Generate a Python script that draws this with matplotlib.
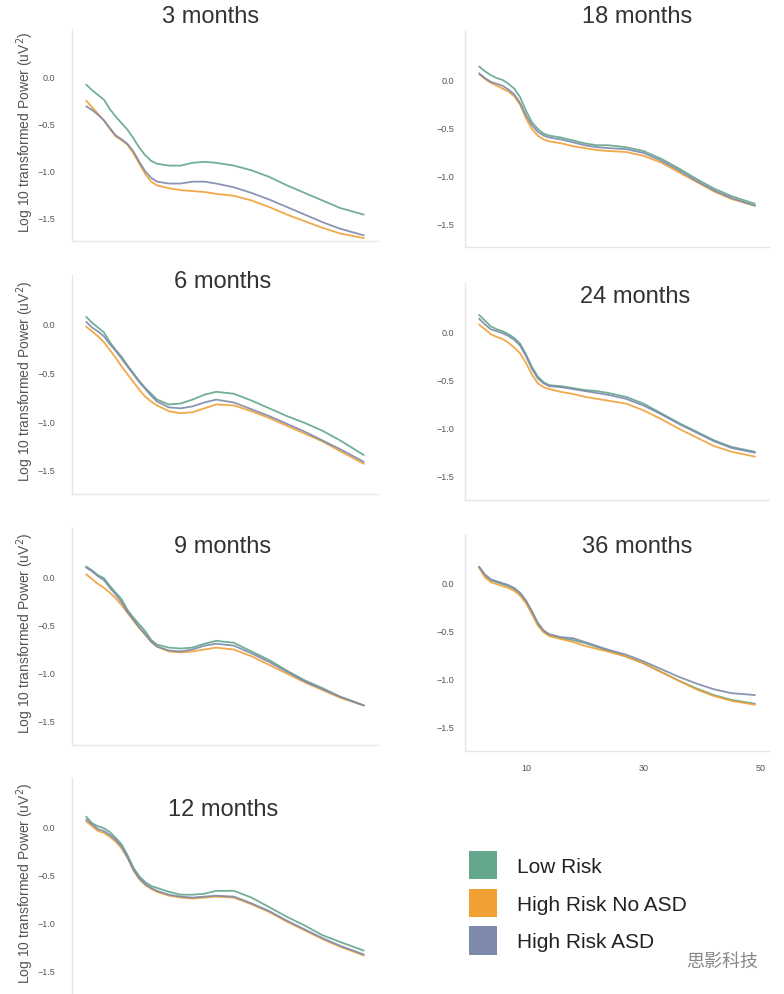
import matplotlib
matplotlib.use("Agg")
import matplotlib.pyplot as plt
from matplotlib.patches import Patch

plt.rcParams['font.family'] = ['Liberation Sans', 'Noto Sans CJK SC', 'DejaVu Sans']

freqs = [2, 3, 4, 5, 6, 7, 8, 9, 10, 11, 12, 13, 14, 16, 18, 20, 22, 24, 27, 30, 33, 36, 39, 42, 45, 49]

groups = ["Low Risk", "High Risk No ASD", "High Risk ASD"]
colors = ["#62a68c", "#f0a035", "#7d8aab"]

ages = ["3 months", "6 months", "9 months", "12 months", "18 months", "24 months", "36 months"]

m3_low = [-0.09, -0.15, -0.20, -0.25, -0.35, -0.43, -0.50, -0.57, -0.66, -0.76, -0.84, -0.90, -0.93, -0.95, -0.95, -0.92, -0.91, -0.92, -0.95, -1.00, -1.07, -1.16, -1.24, -1.32, -1.40, -1.47]
m3_hrno = [-0.26, -0.33, -0.40, -0.47, -0.56, -0.64, -0.68, -0.73, -0.82, -0.93, -1.04, -1.12, -1.16, -1.19, -1.21, -1.22, -1.23, -1.25, -1.27, -1.32, -1.39, -1.47, -1.54, -1.61, -1.67, -1.72]
m3_asd = [-0.32, -0.36, -0.41, -0.47, -0.55, -0.63, -0.67, -0.72, -0.80, -0.91, -1.01, -1.08, -1.12, -1.14, -1.14, -1.12, -1.12, -1.14, -1.18, -1.24, -1.31, -1.39, -1.47, -1.55, -1.62, -1.69]

m6_low = [0.07, 0.01, -0.04, -0.09, -0.19, -0.27, -0.34, -0.43, -0.51, -0.59, -0.66, -0.72, -0.78, -0.83, -0.82, -0.78, -0.73, -0.70, -0.72, -0.79, -0.87, -0.95, -1.02, -1.10, -1.20, -1.35]
m6_hrno = [-0.03, -0.08, -0.13, -0.19, -0.27, -0.35, -0.44, -0.52, -0.60, -0.68, -0.75, -0.80, -0.84, -0.90, -0.92, -0.91, -0.87, -0.83, -0.84, -0.90, -0.97, -1.05, -1.13, -1.21, -1.31, -1.44]
m6_asd = [0.02, -0.04, -0.08, -0.13, -0.21, -0.28, -0.36, -0.44, -0.52, -0.60, -0.67, -0.74, -0.80, -0.86, -0.87, -0.85, -0.81, -0.78, -0.81, -0.88, -0.95, -1.03, -1.11, -1.20, -1.29, -1.42]

m9_low = [0.10, 0.06, 0.01, -0.02, -0.10, -0.17, -0.24, -0.35, -0.43, -0.50, -0.57, -0.66, -0.71, -0.74, -0.75, -0.74, -0.70, -0.67, -0.69, -0.78, -0.87, -0.98, -1.08, -1.16, -1.25, -1.34]
m9_hrno = [0.02, -0.03, -0.08, -0.12, -0.17, -0.23, -0.30, -0.38, -0.46, -0.54, -0.61, -0.68, -0.73, -0.78, -0.79, -0.78, -0.76, -0.74, -0.76, -0.83, -0.92, -1.01, -1.10, -1.18, -1.26, -1.34]
m9_asd = [0.09, 0.05, 0.00, -0.04, -0.12, -0.19, -0.27, -0.37, -0.45, -0.53, -0.60, -0.68, -0.73, -0.77, -0.78, -0.76, -0.72, -0.70, -0.72, -0.80, -0.89, -0.99, -1.09, -1.17, -1.25, -1.34]

m12_low = [0.10, 0.03, 0.00, -0.02, -0.06, -0.12, -0.19, -0.30, -0.43, -0.52, -0.58, -0.62, -0.64, -0.68, -0.71, -0.71, -0.70, -0.67, -0.67, -0.74, -0.84, -0.94, -1.03, -1.13, -1.20, -1.29]
m12_hrno = [0.05, 0.00, -0.05, -0.07, -0.11, -0.16, -0.23, -0.33, -0.46, -0.55, -0.61, -0.65, -0.68, -0.72, -0.74, -0.75, -0.74, -0.73, -0.74, -0.81, -0.89, -0.99, -1.08, -1.17, -1.25, -1.34]
m12_asd = [0.07, 0.02, -0.03, -0.05, -0.09, -0.14, -0.21, -0.32, -0.45, -0.54, -0.60, -0.64, -0.67, -0.71, -0.73, -0.74, -0.73, -0.72, -0.73, -0.80, -0.88, -0.98, -1.07, -1.16, -1.24, -1.33]

m18_low = [0.13, 0.08, 0.04, 0.01, -0.01, -0.05, -0.10, -0.19, -0.33, -0.45, -0.52, -0.57, -0.59, -0.61, -0.64, -0.67, -0.69, -0.69, -0.71, -0.75, -0.83, -0.93, -1.04, -1.14, -1.22, -1.30]
m18_hrno = [0.05, 0.00, -0.04, -0.07, -0.10, -0.13, -0.18, -0.27, -0.41, -0.52, -0.59, -0.63, -0.65, -0.67, -0.70, -0.72, -0.74, -0.75, -0.76, -0.80, -0.87, -0.97, -1.07, -1.17, -1.25, -1.32]
m18_asd = [0.06, 0.01, -0.03, -0.05, -0.07, -0.11, -0.16, -0.25, -0.38, -0.48, -0.55, -0.59, -0.61, -0.63, -0.66, -0.69, -0.71, -0.72, -0.73, -0.77, -0.85, -0.95, -1.06, -1.16, -1.24, -1.32]

m24_low = [0.17, 0.11, 0.05, 0.02, 0.00, -0.03, -0.07, -0.13, -0.24, -0.37, -0.47, -0.53, -0.56, -0.57, -0.59, -0.61, -0.62, -0.64, -0.68, -0.75, -0.85, -0.95, -1.04, -1.13, -1.20, -1.25]
m24_hrno = [0.07, 0.02, -0.03, -0.06, -0.08, -0.12, -0.17, -0.23, -0.33, -0.45, -0.54, -0.58, -0.60, -0.63, -0.65, -0.68, -0.70, -0.72, -0.75, -0.82, -0.91, -1.01, -1.10, -1.19, -1.25, -1.30]
m24_asd = [0.13, 0.07, 0.02, 0.00, -0.02, -0.05, -0.09, -0.15, -0.26, -0.39, -0.49, -0.54, -0.57, -0.58, -0.60, -0.62, -0.64, -0.66, -0.70, -0.77, -0.86, -0.96, -1.05, -1.14, -1.21, -1.26]

m36_low = [0.16, 0.07, 0.02, 0.00, -0.02, -0.04, -0.07, -0.12, -0.20, -0.31, -0.43, -0.51, -0.55, -0.58, -0.60, -0.63, -0.67, -0.71, -0.77, -0.84, -0.93, -1.02, -1.10, -1.17, -1.22, -1.26]
m36_hrno = [0.15, 0.05, 0.00, -0.02, -0.04, -0.06, -0.09, -0.14, -0.22, -0.33, -0.45, -0.52, -0.56, -0.59, -0.62, -0.66, -0.69, -0.72, -0.77, -0.84, -0.93, -1.02, -1.11, -1.18, -1.23, -1.27]
m36_asd = [0.16, 0.08, 0.03, 0.01, -0.01, -0.03, -0.06, -0.11, -0.19, -0.30, -0.42, -0.50, -0.54, -0.57, -0.58, -0.62, -0.66, -0.70, -0.75, -0.82, -0.90, -0.98, -1.05, -1.11, -1.15, -1.17]

panel_data = [
    (m3_low, m3_hrno, m3_asd),
    (m6_low, m6_hrno, m6_asd),
    (m9_low, m9_hrno, m9_asd),
    (m12_low, m12_hrno, m12_asd),
    (m18_low, m18_hrno, m18_asd),
    (m24_low, m24_hrno, m24_asd),
    (m36_low, m36_hrno, m36_asd),
]

yticks = [-1.5, -1.0, -0.5, 0.0]
xticks = [10, 30, 50]

W, H = 784, 995
fig = plt.figure(figsize=(W / 100, H / 100), dpi=100)

# pixel boxes: (left, top, right, bottom)
boxes = [
    (72, 30, 378, 242), (72, 276, 378, 495), (72, 529, 378, 746), (72, 779, 378, 996),
    (465, 32, 769, 248), (465, 284, 769, 501), (465, 535, 769, 752),
]
title_pos = [(211, 17), (223, 282), (223, 547), (223, 810), (637, 17), (635, 297), (637, 547)]

spine_col = "#e6e6e6"
for i, (age, data, box, tp) in enumerate(zip(ages, panel_data, boxes, title_pos)):
    l, t, r, b = box
    ax = fig.add_axes([l / W, 1 - b / H, (r - l) / W, (b - t) / H])
    ax.set_facecolor("white")
    for series, c in zip(data, colors):
        ax.plot(freqs, series, color=c, lw=1.3, alpha=0.9, solid_capstyle="round")
    ax.set_xlim(-0.4, 51.4)
    ax.set_ylim(-1.75, 0.5)
    ax.set_yticks(yticks)
    ax.set_yticklabels([f"{v:.1f}".replace("-", "\u2212") for v in yticks])
    for s in ["top", "right"]:
        ax.spines[s].set_visible(False)
    for s in ["left", "bottom"]:
        ax.spines[s].set_color(spine_col)
        ax.spines[s].set_linewidth(1.0)
    left_col = i < 4
    ax.tick_params(axis="y", length=0, labelsize=6.5, labelcolor="#555555", pad=12 if left_col else 8)
    if age == "36 months":
        ax.set_xticks(xticks)
        ax.tick_params(axis="x", length=0, labelsize=6.5, labelcolor="#555555", pad=9)
    else:
        ax.set_xticks([])
    fig.text(tp[0] / W, 1 - tp[1] / H, age, ha="center", va="center", fontsize=17, color="#333333")
    if left_col:
        fig.text(25 / W, 1 - ((t + min(b, H)) / 2 - 4) / H, "Log 10 transformed Power (uV$^2$)",
                 rotation=90, ha="center", va="center", fontsize=10, color="#555555")

handles = [Patch(facecolor=c, edgecolor="none") for c in colors]
fig.legend(handles, groups, loc="upper left", bbox_to_anchor=(469 / W, 1 - 852 / H),
           frameon=False, fontsize=15, handlelength=1.35, handleheight=1.7,
           handletextpad=0.95, labelspacing=0.46, borderpad=0, borderaxespad=0,
           labelcolor="#222222")

fig.text(722 / W, 1 - 962 / H, "思影科技", ha="center", va="center", fontsize=13,
         color="#888888", family=["Noto Sans CJK SC", "DejaVu Sans"])

fig.savefig("out.png", dpi=100, facecolor="white")
